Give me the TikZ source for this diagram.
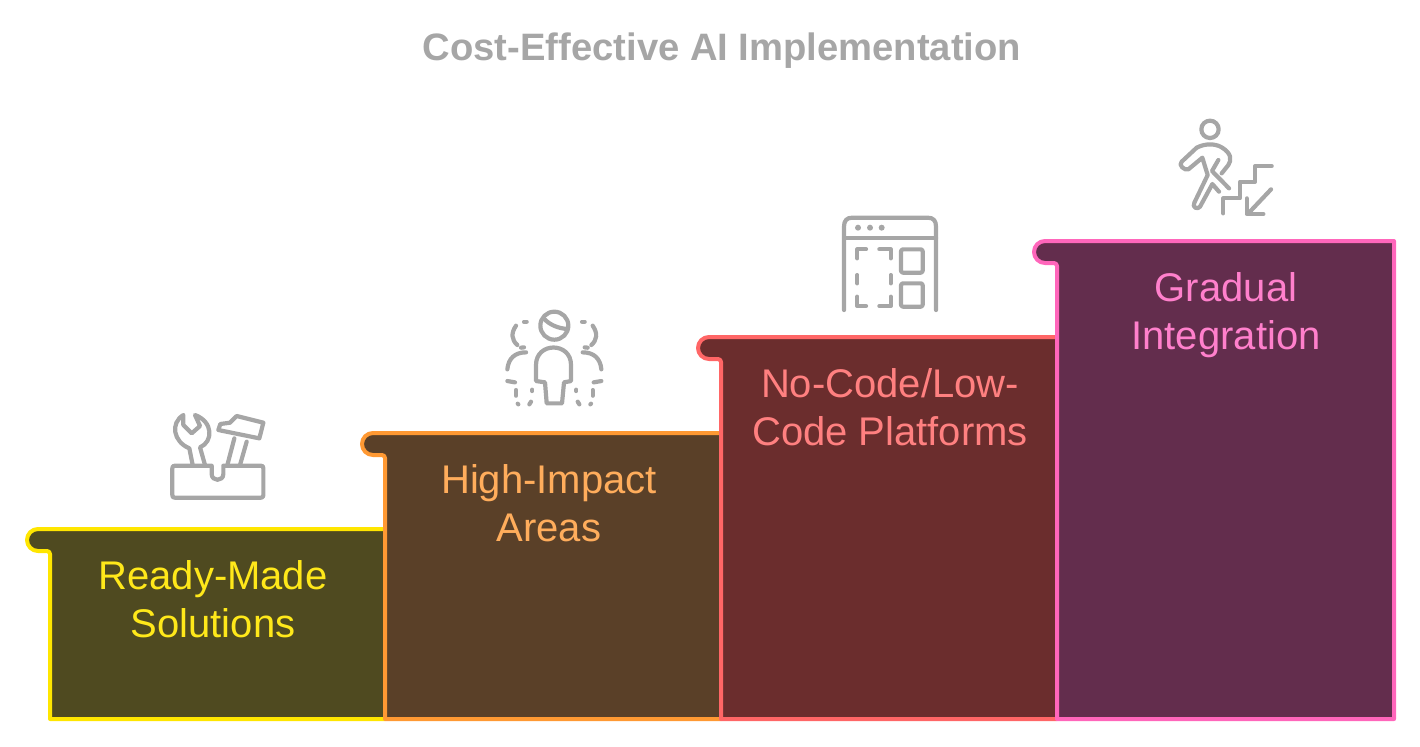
\documentclass[tikz,border=0pt]{standalone}
\usepackage{fontspec}
\setmainfont{Liberation Sans}
\usepackage{xcolor}
\usetikzlibrary{positioning}
\definecolor{icongray}{HTML}{A6A6A6}
\definecolor{yellowline}{HTML}{FFE600}
\definecolor{yellowfill}{HTML}{4F4A20}
\definecolor{yellowtext}{HTML}{FFE81A}
\definecolor{orangeline}{HTML}{FF9933}
\definecolor{orangefill}{HTML}{5A4028}
\definecolor{orangetext}{HTML}{FFAD5C}
\definecolor{redline}{HTML}{FF6666}
\definecolor{redfill}{HTML}{6B2D2D}
\definecolor{redtext}{HTML}{FF8080}
\definecolor{pinkline}{HTML}{FF66BB}
\definecolor{pinkfill}{HTML}{632D4D}
\definecolor{pinktext}{HTML}{FF80CC}
\tikzset{
	stepbox/.style={line width=2pt, line join=round},
	steplabel/.style={align=center, inner sep=0pt, font=\fontsize{20}{24}\selectfont},
	iconline/.style={draw=icongray, line width=2.1pt, line cap=round, line join=round},
	icondot/.style={fill=icongray, draw=none}
}
\begin{document}
\begin{tikzpicture}[x=0.5pt, y=-0.5pt]
	\useasboundingbox (0,0) rectangle (1420,746);
	% Title
	\node[font=\fontsize{19.1}{24}\selectfont\bfseries, text=icongray, inner sep=0pt] (title) at (722,51) {Cost-Effective AI Implementation};
	% Step 1
	\draw[stepbox, draw=yellowline, fill=yellowfill] (50,719) -- (50,554) arc (0:-90:3 and 3) -- (38,551) arc (90:270:11) -- (385,529) -- (385,719) -- cycle;
	\node[steplabel, text=yellowtext] (ready) at (213,599) {Ready-Made\\Solutions};
	% Step 2
	\draw[stepbox, draw=orangeline, fill=orangefill] (385,719) -- (385,458) arc (0:-90:3 and 3) -- (373,455) arc (90:270:11) -- (721,433) -- (721,719) -- cycle;
	\node[steplabel, text=orangetext] (impact) at (549,503) {High-Impact\\Areas};
	% Step 3
	\draw[stepbox, draw=redline, fill=redfill] (721,719) -- (721,362) arc (0:-90:3 and 3) -- (709,359) arc (90:270:11) -- (1057,337) -- (1057,719) -- cycle;
	\node[steplabel, text=redtext] (nocode) at (890,407) {No-Code/Low-\\Code Platforms};
	% Step 4
	\draw[stepbox, draw=pinkline, fill=pinkfill] (1057,719) -- (1057,266) arc (0:-90:3 and 3) -- (1045,263) arc (90:270:11) -- (1394,241) -- (1394,719) -- cycle;
	\node[steplabel, text=pinktext] (gradual) at (1226,315) {Gradual\\Integration};
	% Toolbox icon
	\begin{scope}[shift={(150,400)}, x=0.1667pt, y=-0.1667pt]
		\draw[iconline] (185,197) -- (75,197) .. controls (69,197) and (67,199) .. (67,205) -- (67,285) .. controls (67,291) and (69,293) .. (75,293) -- (332,293) .. controls (338,293) and (340,291) .. (340,285) -- (340,205) .. controls (340,199) and (338,197) .. (332,197) -- (220,197) -- (220,222) .. controls (220,245) and (185,245) .. (185,222) -- cycle;
		% wrench
		\draw[iconline] (128,195) -- (118,145) .. controls (70,125) and (60,70) .. (100,45) -- (100,75) -- (125,100) -- (150,78) -- (135,45) .. controls (190,65) and (190,125) .. (150,142) -- (165,195);
		% hammer
		\draw[iconline] (232,195) -- (253,115);
		\draw[iconline] (270,195) -- (290,125);
		\draw[iconline] (205,90) -- (211,72) -- (240,68) -- (260,48) -- (340,68) -- (328,115) -- cycle;
	\end{scope}
	% Person icon
	\begin{scope}[shift={(490,305)}, x=0.1667pt, y=-0.1667pt]
		\draw[iconline] (193,62) circle (42);
		\draw[iconline] (163,42) .. controls (180,60) and (205,70) .. (232,72);
		\draw[iconline] (165,232) -- (170,295) -- (216,295) -- (222,232) -- (243,228) -- (243,180) .. controls (243,110) and (138,110) .. (138,180) -- (138,228) -- cycle;
		% dashed figures on both sides
		\foreach \sx/\ox in {1/0, -1/386} {
			\begin{scope}[shift={(\ox,0)}, xscale=\sx]
				\draw[iconline] (102,50) -- (110,50);
				\draw[iconline] (78,62) .. controls (62,85) and (65,105) .. (82,120);
				\draw[iconline] (93,128) -- (102,127);
				\draw[iconline] (108,142) .. controls (75,142) and (55,160) .. (52,193);
				\draw[iconline] (52,228) -- (75,232);
				\draw[iconline] (78,255) -- (78,272);
				\draw[iconline] (83,296) -- (85,298);
				\draw[iconline] (118,298) -- (123,290);
				\draw[iconline] (127,254) -- (127,258);
			\end{scope}
		}
	\end{scope}
	% Browser icon
	\begin{scope}[shift={(830,205)}, x=0.1667pt, y=-0.1667pt]
		\draw[iconline] (42,315) -- (42,65) .. controls (42,47) and (50,38) .. (67,38) -- (293,38) .. controls (310,38) and (318,47) .. (318,65) -- (318,315);
		\draw[iconline] (42,98) -- (318,98);
		\fill[icondot] (84,68) circle (9);
		\fill[icondot] (120,68) circle (9);
		\fill[icondot] (155,68) circle (9);
		\draw[iconline, rounded corners=1pt] (213,133) rectangle (278,203);
		\draw[iconline, rounded corners=1pt] (213,235) rectangle (278,305);
		\draw[iconline] (82,160) -- (82,133) -- (108,133);
		\draw[iconline] (148,133) -- (182,133) -- (182,160);
		\draw[iconline] (82,210) -- (82,235);
		\draw[iconline] (182,210) -- (182,235);
		\draw[iconline] (82,275) -- (82,303) -- (108,303);
		\draw[iconline] (148,303) -- (182,303) -- (182,275);
	\end{scope}
	% Stairs icon
	\begin{scope}[shift={(1165,110)}, x=0.1667pt, y=-0.1667pt]
		\draw[iconline] (135,58) circle (26);
		\draw[iconline] (160,150) -- (141,183) -- (192,235);
		\draw[iconline] (162,245) -- (142,222) -- (105,290) .. controls (98,300) and (80,292) .. (88,278) -- (128,195) -- (112,143) -- (70,178) .. controls (60,183) and (38,165) .. (50,155) -- (95,113) .. controls (120,100) and (150,100) .. (170,112) .. controls (200,130) and (200,150) .. (190,165) -- (170,190);
		\draw[iconline] (175,310) -- (175,265) -- (225,265) -- (225,215) -- (270,215) -- (270,168) -- (320,168);
		\draw[iconline] (318,238) -- (250,310);
		\draw[iconline] (245,265) -- (245,312) -- (295,312);
	\end{scope}
\end{tikzpicture}
\end{document}
